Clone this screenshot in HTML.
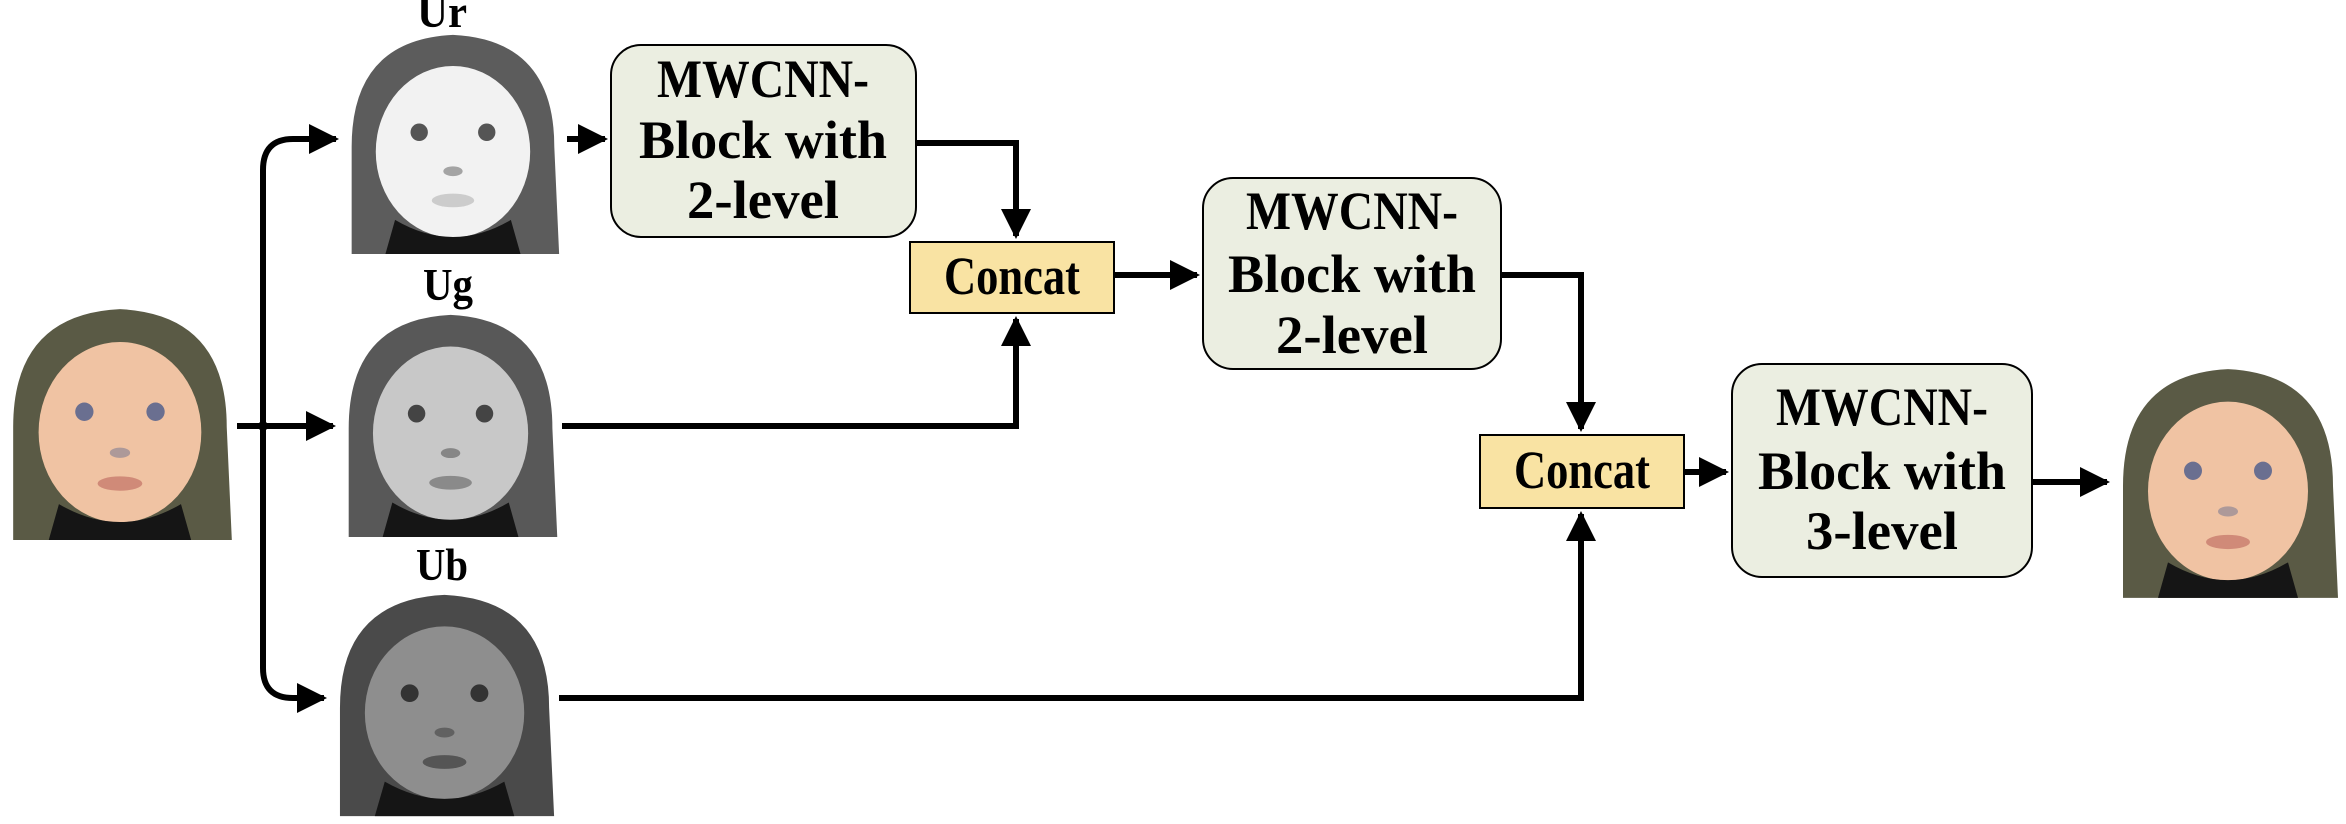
<!DOCTYPE html>
<html><head><meta charset="utf-8"><style>
html,body{margin:0;padding:0;background:#fff;}
svg{display:block;}
text{font-family:"Liberation Serif",serif;font-weight:bold;fill:#000;}
</style></head><body>
<svg width="2346" height="824" viewBox="0 0 2346 824" xmlns="http://www.w3.org/2000/svg">
<defs>
<marker id="a" viewBox="0 0 10 10" refX="9" refY="5" markerWidth="5" markerHeight="5" orient="auto" markerUnits="strokeWidth"><path d="M0,0 L10,5 L0,10 z" fill="#000"/></marker>
<g id="face">
  <rect x="0" y="0" width="230" height="230" fill="#fff"/>
  <path d="M10,230 L10,120 Q10,10 115,5 Q220,10 220,120 L225,230 Z" fill="var(--hat)"/>
  <ellipse cx="115" cy="125" rx="80" ry="88" fill="var(--skin)"/>
  <path d="M55,195 Q115,230 175,195 L185,230 L45,230 Z" fill="#151515"/>
  <circle cx="80" cy="105" r="9" fill="var(--eye)"/>
  <circle cx="150" cy="105" r="9" fill="var(--eye)"/>
  <ellipse cx="115" cy="145" rx="10" ry="5" fill="var(--eye)" opacity="0.5"/>
  <ellipse cx="115" cy="175" rx="22" ry="7" fill="var(--lip)"/>
</g>
</defs>

<g transform="translate(3,304) scale(1.017,1.026)" style="--hat:#5a5a45;--skin:#f0c3a3;--eye:#6a6f90;--lip:#d08a78"><use href="#face"/></g>
<g transform="translate(342,30) scale(0.965,0.974)" style="--hat:#5c5c5c;--skin:#f2f2f2;--eye:#555;--lip:#ccc"><use href="#face"/></g>
<g transform="translate(339,310) scale(0.97,0.987)" style="--hat:#585858;--skin:#c8c8c8;--eye:#444;--lip:#8a8a8a"><use href="#face"/></g>
<g transform="translate(330,590) scale(0.996,0.983)" style="--hat:#4a4a4a;--skin:#8e8e8e;--eye:#333;--lip:#555"><use href="#face"/></g>
<g transform="translate(2113,364) scale(1,1.017)" style="--hat:#5a5a45;--skin:#f0c3a3;--eye:#6a6f90;--lip:#d08a78"><use href="#face"/></g>

<g font-size="46" text-anchor="middle">
<text x="442" y="27" textLength="50" lengthAdjust="spacingAndGlyphs">Ur</text>
<text x="448" y="300" textLength="50" lengthAdjust="spacingAndGlyphs">Ug</text>
<text x="442" y="580" textLength="52" lengthAdjust="spacingAndGlyphs">Ub</text>
</g>

<g stroke="#000" stroke-width="6" fill="none">
  <path d="M293,139 Q263,139 263,170 L263,668 Q263,698 293,698 L324,698" marker-end="url(#a)"/>
  <path d="M293,139 L336,139" marker-end="url(#a)"/>
  <path d="M237,426 L333,426" marker-end="url(#a)"/>
  <path d="M567,139 L605,139" marker-end="url(#a)"/>
  <path d="M916,143 L1016,143 L1016,236" marker-end="url(#a)"/>
  <path d="M562,426 L1016,426 L1016,319" marker-end="url(#a)"/>
  <path d="M1114,275 L1197,275" marker-end="url(#a)"/>
  <path d="M1501,275 L1581,275 L1581,429" marker-end="url(#a)"/>
  <path d="M559,698 L1581,698 L1581,514" marker-end="url(#a)"/>
  <path d="M1684,472 L1726,472" marker-end="url(#a)"/>
  <path d="M2032,482 L2107,482" marker-end="url(#a)"/>
</g>
<circle cx="263" cy="426" r="5" fill="#000"/>

<g stroke="#000" stroke-width="2">
  <rect x="611" y="45" width="305" height="192" rx="30" fill="#ebeee1"/>
  <rect x="1203" y="178" width="298" height="191" rx="30" fill="#ebeee1"/>
  <rect x="1732" y="364" width="300" height="213" rx="30" fill="#ebeee1"/>
  <rect x="910" y="242" width="204" height="71" fill="#f9e3a3"/>
  <rect x="1480" y="435" width="204" height="73" fill="#f9e3a3"/>
</g>

<g font-size="54" text-anchor="middle">
  <text x="763" y="97" textLength="212" lengthAdjust="spacingAndGlyphs">MWCNN-</text>
  <text x="763" y="158" textLength="248" lengthAdjust="spacingAndGlyphs">Block with</text>
  <text x="763" y="218" textLength="152" lengthAdjust="spacingAndGlyphs">2-level</text>
  <text x="1352" y="229" textLength="212" lengthAdjust="spacingAndGlyphs">MWCNN-</text>
  <text x="1352" y="292" textLength="248" lengthAdjust="spacingAndGlyphs">Block with</text>
  <text x="1352" y="353" textLength="152" lengthAdjust="spacingAndGlyphs">2-level</text>
  <text x="1882" y="425" textLength="212" lengthAdjust="spacingAndGlyphs">MWCNN-</text>
  <text x="1882" y="489" textLength="248" lengthAdjust="spacingAndGlyphs">Block with</text>
  <text x="1882" y="549" textLength="152" lengthAdjust="spacingAndGlyphs">3-level</text>
  <text x="1012" y="294" textLength="136" lengthAdjust="spacingAndGlyphs">Concat</text>
  <text x="1582" y="488" textLength="136" lengthAdjust="spacingAndGlyphs">Concat</text>
</g>
</svg>
</body></html>
